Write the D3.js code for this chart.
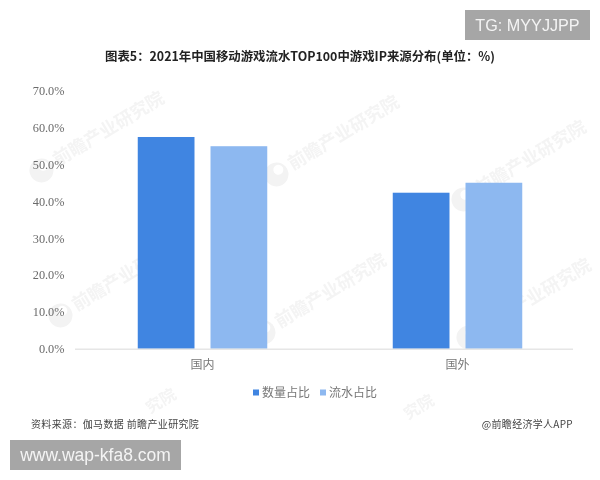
<!DOCTYPE html>
<html><head><meta charset="utf-8">
<style>html,body{margin:0;padding:0;background:#fff}svg{display:block;filter:blur(0.3px)}
text{font-family:"Noto Sans CJK SC","Noto Sans",sans-serif}</style>
<script src="https://cdnjs.cloudflare.com/ajax/libs/d3/7.8.5/d3.min.js"></script>
</head><body><div id="c"></div>
<script>
const categories=["国内","国外"];
const seriesNames=["数量占比","流水占比"];
const shareCount=[57.4,42.3];
const shareRevenue=[54.9,45.0];
const tickValues=[0,10,20,30,40,50,60,70];
const colors=["#4085e1","#8db8f0"];
const titleText="图表5：2021年中国移动游戏流水TOP100中游戏IP来源分布(单位：%)";
const sourceText="资料来源：伽马数据 前瞻产业研究院";
const creditText="@前瞻经济学人APP";
const watermarkX=[43,278,465,62,265,470];
const watermarkY=[173,177,202,318,335,340];
const fragmentX=[150,408];
const fragmentY=[414,420];

const svg=d3.select("#c").append("svg").attr("width",600).attr("height",480);
const wm=svg.append("g");
watermarkX.forEach((px,i)=>{
  const g=wm.append("g").attr("transform",`translate(${px},${watermarkY[i]}) rotate(-31)`);
  g.append("text").attr("x",16).attr("y",2).attr("font-size",18).attr("font-weight",700)
   .attr("fill","#f4f4f4").text("前瞻产业研究院");
  g.append("circle").attr("cx",0).attr("cy",-3).attr("r",12).attr("fill","#f3f3f3");
  g.append("circle").attr("cx",4).attr("cy",-6).attr("r",5).attr("fill","#fff");
});
fragmentX.forEach((px,i)=>{
  wm.append("text").attr("transform",`translate(${px},${fragmentY[i]}) rotate(-31)`)
    .attr("font-size",16).attr("font-weight",700).attr("fill","#f4f4f4").text("究院");
});

const x=d3.scaleBand().domain(categories).range([75,585]);
const xs=d3.scaleBand().domain(seriesNames).range([0,129.5]).paddingInner(0.22);
const y=d3.scaleLinear().domain([0,70]).range([348.8,90.5]);
const fmt=d=>d.toFixed(1)+"%";

// y axis
const ya=svg.append("g").attr("transform","translate(64.5,0)")
  .call(d3.axisLeft(y).tickValues(tickValues).tickFormat(fmt).tickSize(0).tickPadding(0));
ya.select(".domain").remove();
ya.selectAll("text").attr("fill","#6a6a6a")
  .style("font-family",'"Liberation Serif",serif').style("font-size","12.3px");

// bars
const g=svg.append("g");
[shareCount,shareRevenue].forEach((vals,i)=>{
  g.selectAll(null).data(vals).join("rect")
   .attr("x",(d,j)=>x(categories[j])+x.bandwidth()/2-64.75+xs(seriesNames[i]))
   .attr("y",d=>y(d)).attr("width",xs.bandwidth())
   .attr("height",d=>y(0)-y(d)).attr("fill",colors[i]);
});

// x axis
const xa=svg.append("g").attr("transform",`translate(0,${y(0)})`)
  .call(d3.axisBottom(x).tickSize(0).tickPadding(12));
xa.select(".domain").attr("d","M75,0.5H573").attr("stroke","#e6e6e6").attr("stroke-width",1.5);
xa.selectAll("text").attr("font-size",12).attr("fill","#777");

// title
svg.append("text").attr("x",300).attr("y",60.5).attr("text-anchor","middle")
  .attr("font-size",12.4).attr("font-weight",700).attr("fill","#222").text(titleText);

// legend
const legendX=[253,320];
seriesNames.forEach((n,i)=>{
  svg.append("rect").attr("x",legendX[i]).attr("y",389.5).attr("width",6).attr("height",6).attr("fill",colors[i]);
  svg.append("text").attr("x",legendX[i]+9).attr("y",396.5).attr("font-size",12)
    .attr("fill","#777").text(n);
});

// footer
svg.append("text").attr("x",31).attr("y",427.5).attr("font-size",10).attr("fill","#444")
  .attr("letter-spacing",0.35).text(sourceText);
svg.append("text").attr("x",573).attr("y",427.5).attr("text-anchor","end").attr("font-size",10)
  .attr("letter-spacing",0.3).attr("fill","#444").text(creditText);

// overlay banners
const banners=[{t:"TG: MYYJJPP",x:465,y:10,w:125,h:30,s:16.2},{t:"www.wap-kfa8.com",x:10,y:440,w:171,h:30,s:17.5}];
banners.forEach(b=>{
  svg.append("rect").attr("x",b.x).attr("y",b.y).attr("width",b.w).attr("height",b.h).attr("fill","#a6a6a6");
  svg.append("text").attr("x",b.x+b.w/2).attr("y",b.y+b.h/2+6).attr("text-anchor","middle")
    .attr("font-size",b.s).attr("fill","#f4f4f4").style("font-family",'"Liberation Sans",sans-serif').text(b.t);
});
</script></body></html>
